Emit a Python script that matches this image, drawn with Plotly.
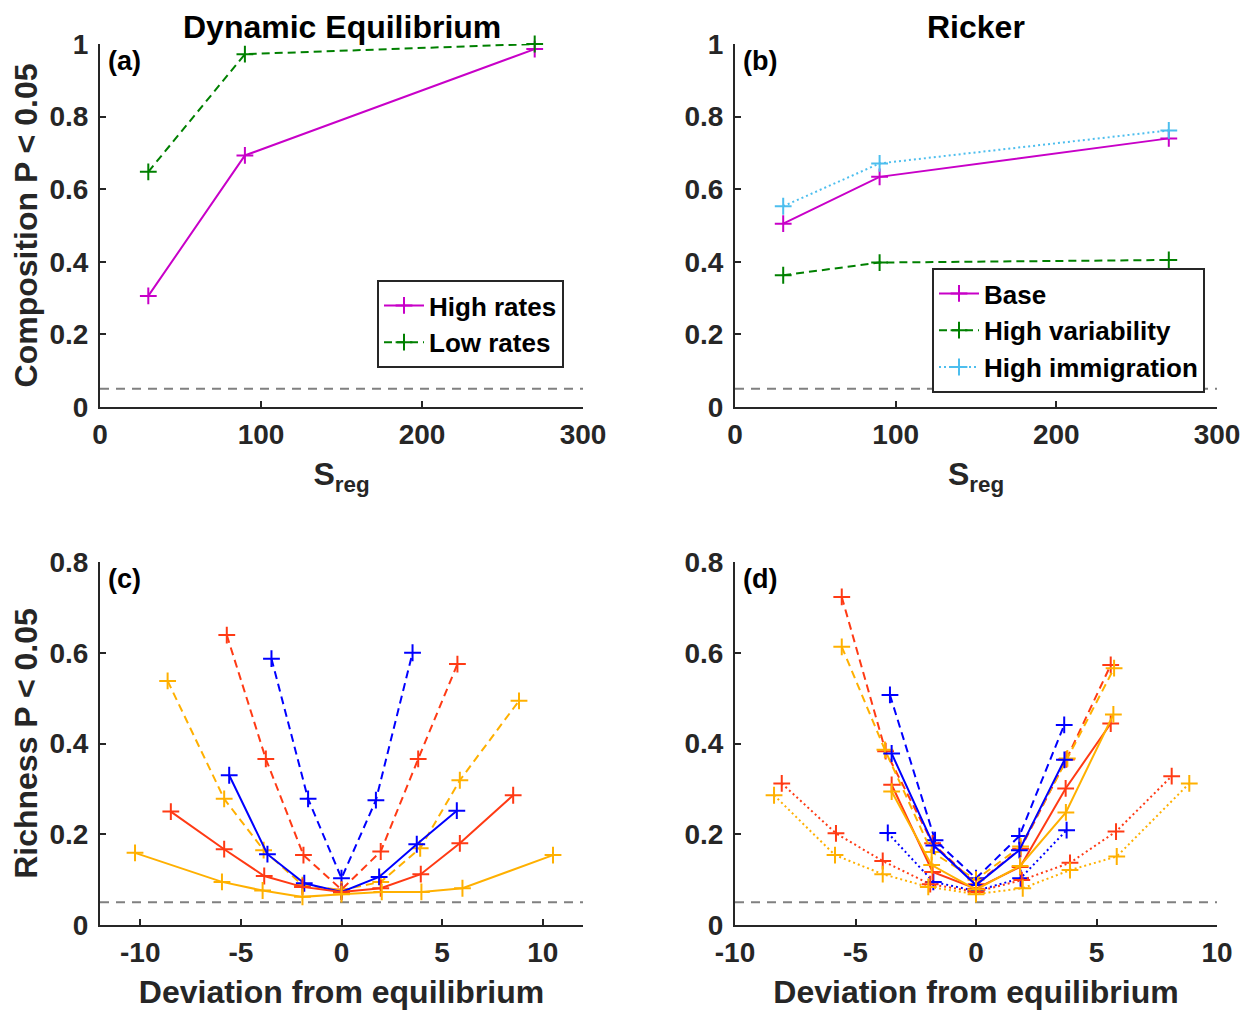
import plotly.graph_objects as go

# ---------------- data ----------------
S_REG = [30, 90, 270]
DE_HIGH_RATES = [0.306, 0.693, 0.986]
DE_LOW_RATES = [0.648, 0.972, 1.0]

RK_BASE = [0.505, 0.634, 0.740]
RK_HIGH_VAR = [0.363, 0.398, 0.405]
RK_HIGH_IMM = [0.553, 0.671, 0.762]

THRESH = 0.05

# tick labels
SREG_TICKS = [0, 100, 200, 300]
SREG_TICKTEXT = ["0", "100", "200", "300"]
COMP_TICKS = [0, 0.2, 0.4, 0.6, 0.8, 1]
COMP_TICKTEXT = ["0", "0.2", "0.4", "0.6", "0.8", "1"]
RICH_TICKS = [0, 0.2, 0.4, 0.6, 0.8]
RICH_TICKTEXT = ["0", "0.2", "0.4", "0.6", "0.8"]
DEV_TICKS = [-10, -5, 0, 5, 10]
DEV_TICKTEXT = ["-10", "-5", "0", "5", "10"]

# panel (c) Dynamic equilibrium richness
C_BLUE_DASH_X = [-3.48, -1.66, 0, 1.71, 3.53]
C_BLUE_DASH_Y = [0.587, 0.278, 0.103, 0.275, 0.600]
C_RED_DASH_X = [-5.70, -3.76, -1.89, 0, 1.95, 3.81, 5.76]
C_RED_DASH_Y = [0.639, 0.366, 0.154, 0.078, 0.162, 0.366, 0.575]
C_ORANGE_DASH_X = [-8.64, -5.83, -3.87, -1.94, 0, 1.95, 3.91, 5.88, 8.82]
C_ORANGE_DASH_Y = [0.538, 0.278, 0.165, 0.088, 0.077, 0.095, 0.169, 0.319, 0.494]
C_BLUE_SOLID_X = [-5.58, -3.68, -1.85, 0, 1.87, 3.74, 5.73]
C_BLUE_SOLID_Y = [0.330, 0.156, 0.092, 0.073, 0.106, 0.178, 0.252]
C_RED_SOLID_X = [-8.48, -5.83, -3.84, -1.94, 0, 1.95, 3.94, 5.88, 8.53]
C_RED_SOLID_Y = [0.250, 0.167, 0.108, 0.084, 0.073, 0.081, 0.112, 0.180, 0.286]
C_ORANGE_SOLID_X = [-10.26, -5.94, -3.92, -1.94, 0, 2.0, 3.97, 6.01, 10.51]
C_ORANGE_SOLID_Y = [0.159, 0.095, 0.076, 0.062, 0.068, 0.073, 0.073, 0.081, 0.154]

# panel (d) Ricker richness
D_BLUE_DASH_X = [-3.57, -1.70, 0, 1.80, 3.66]
D_BLUE_DASH_Y = [0.507, 0.187, 0.103, 0.196, 0.441]
D_BLUE_SOLID_X = [-3.50, -1.75, 0, 1.80, 3.67]
D_BLUE_SOLID_Y = [0.378, 0.175, 0.088, 0.165, 0.364]
D_BLUE_DOT_X = [-3.66, -1.77, 0, 1.85, 3.76]
D_BLUE_DOT_Y = [0.203, 0.095, 0.075, 0.103, 0.209]
D_RED_DASH_X = [-5.57, -3.75, -1.80, 0, 1.85, 3.75, 5.59]
D_RED_DASH_Y = [0.723, 0.383, 0.180, 0.090, 0.168, 0.365, 0.573]
D_RED_SOLID_X = [-3.50, -1.80, 0, 1.83, 3.72, 5.59]
D_RED_SOLID_Y = [0.309, 0.117, 0.080, 0.128, 0.301, 0.444]
D_RED_DOT_X = [-8.06, -5.81, -3.87, -1.90, 0, 1.90, 3.90, 5.81, 8.12]
D_RED_DOT_Y = [0.312, 0.202, 0.141, 0.090, 0.073, 0.099, 0.137, 0.206, 0.328]
D_ORANGE_DASH_X = [-5.57, -3.78, -1.84, 0, 1.85, 3.79, 5.73]
D_ORANGE_DASH_Y = [0.613, 0.386, 0.161, 0.100, 0.173, 0.367, 0.566]
D_ORANGE_SOLID_X = [-3.50, -1.84, 0, 1.83, 3.73, 5.70]
D_ORANGE_SOLID_Y = [0.294, 0.132, 0.078, 0.130, 0.248, 0.464]
D_ORANGE_DOT_X = [-8.38, -5.85, -3.87, -1.98, 0, 1.94, 3.90, 5.84, 8.85]
D_ORANGE_DOT_Y = [0.286, 0.154, 0.112, 0.084, 0.068, 0.081, 0.121, 0.151, 0.312]

# ---------------- style ----------------
FONT = "Arial"
AX_COL = "#262626"
MAGENTA = "#C800C8"
GREEN = "#008000"
LIGHTBLUE = "#4DBEEE"
BLUE = "#0000FF"
RED = "#FF3A14"
ORANGE = "#FFB000"
DASH = "8px,5px"
DOT = "2px,3px"

fig = go.Figure()


def add(x, y, color, dash, xa, ya, name=None, legend=None):
    fig.add_trace(go.Scatter(
        x=x, y=y, mode="lines+markers", name=name,
        line=dict(color=color, width=2, dash=dash),
        marker=dict(symbol="cross-thin", size=12, color=color,
                    line=dict(color=color, width=2)),
        xaxis=xa, yaxis=ya, cliponaxis=False,
        showlegend=legend is not None, legend=legend or "legend",
    ))


# panel a
add(S_REG, DE_HIGH_RATES, MAGENTA, "solid", "x", "y", "High rates", "legend")
add(S_REG, DE_LOW_RATES, GREEN, DASH, "x", "y", "Low rates", "legend")
# panel b
add(S_REG, RK_BASE, MAGENTA, "solid", "x2", "y2", "Base", "legend2")
add(S_REG, RK_HIGH_VAR, GREEN, DASH, "x2", "y2", "High variability", "legend2")
add(S_REG, RK_HIGH_IMM, LIGHTBLUE, DOT, "x2", "y2", "High immigration", "legend2")
# panel c
add(C_BLUE_DASH_X, C_BLUE_DASH_Y, BLUE, DASH, "x3", "y3")
add(C_RED_DASH_X, C_RED_DASH_Y, RED, DASH, "x3", "y3")
add(C_ORANGE_DASH_X, C_ORANGE_DASH_Y, ORANGE, DASH, "x3", "y3")
add(C_BLUE_SOLID_X, C_BLUE_SOLID_Y, BLUE, "solid", "x3", "y3")
add(C_RED_SOLID_X, C_RED_SOLID_Y, RED, "solid", "x3", "y3")
add(C_ORANGE_SOLID_X, C_ORANGE_SOLID_Y, ORANGE, "solid", "x3", "y3")
# panel d
add(D_BLUE_DASH_X, D_BLUE_DASH_Y, BLUE, DASH, "x4", "y4")
add(D_RED_DASH_X, D_RED_DASH_Y, RED, DASH, "x4", "y4")
add(D_ORANGE_DASH_X, D_ORANGE_DASH_Y, ORANGE, DASH, "x4", "y4")
add(D_BLUE_DOT_X, D_BLUE_DOT_Y, BLUE, DOT, "x4", "y4")
add(D_RED_DOT_X, D_RED_DOT_Y, RED, DOT, "x4", "y4")
add(D_ORANGE_DOT_X, D_ORANGE_DOT_Y, ORANGE, DOT, "x4", "y4")
add(D_BLUE_SOLID_X, D_BLUE_SOLID_Y, BLUE, "solid", "x4", "y4")
add(D_RED_SOLID_X, D_RED_SOLID_Y, RED, "solid", "x4", "y4")
add(D_ORANGE_SOLID_X, D_ORANGE_SOLID_Y, ORANGE, "solid", "x4", "y4")

# page body has an 8px margin: figure sized to fill the window exactly
OFF = 8
W, H = 1249 - OFF, 1010 - OFF


def px_x(p):
    return (p - OFF) / W


def px_y(p):
    return 1 - (p - OFF) / H


XL = [px_x(100), px_x(583)]
XR = [px_x(735), px_x(1217)]
YT = [px_y(407), px_y(44)]
YB = [px_y(925), px_y(562)]

tickfont = dict(family=FONT, size=28, color=AX_COL, weight="bold")
titlefont = dict(family=FONT, size=32, color=AX_COL, weight="bold")


def common():
    return dict(showline=True, linecolor=AX_COL, linewidth=2, ticks="inside",
                ticklen=6, tickwidth=2, tickcolor=AX_COL, showgrid=False,
                zeroline=False, tickfont=tickfont, automargin=False,
                tickmode="array")


def xax(domain, anchor, rng, tv, tt, title):
    d = common()
    d.update(domain=domain, anchor=anchor, range=rng, tickvals=tv, ticktext=tt,
             ticklabelstandoff=1,
             title=dict(text=title, font=titlefont, standoff=14))
    return d


def yax(domain, anchor, rng, tv, tt, title=None):
    d = common()
    d.update(domain=domain, anchor=anchor, range=rng, tickvals=tv, ticktext=tt,
             ticklabelstandoff=4)
    if title:
        d["title"] = dict(text=title, font=titlefont, standoff=3)
    return d


SREG = "S<sub>reg</sub>"
DEV = "Deviation from equilibrium"
legfont = dict(family=FONT, size=26, color="black", weight="bold")
fig.update_layout(
    width=W, height=H, margin=dict(l=0, r=0, t=0, b=0, autoexpand=False),
    paper_bgcolor="white", plot_bgcolor="white",
    xaxis=xax(XL, "y", [0, 300], SREG_TICKS, SREG_TICKTEXT, SREG),
    yaxis=yax(YT, "x", [0, 1], COMP_TICKS, COMP_TICKTEXT, "Composition P < 0.05"),
    xaxis2=xax(XR, "y2", [0, 300], SREG_TICKS, SREG_TICKTEXT, SREG),
    yaxis2=yax(YT, "x2", [0, 1], COMP_TICKS, COMP_TICKTEXT),
    xaxis3=xax(XL, "y3", [-12, 12], DEV_TICKS, DEV_TICKTEXT, DEV),
    yaxis3=yax(YB, "x3", [0, 0.8], RICH_TICKS, RICH_TICKTEXT, "Richness P < 0.05"),
    xaxis4=xax(XR, "y4", [-10, 10], DEV_TICKS, DEV_TICKTEXT, DEV),
    yaxis4=yax(YB, "x4", [0, 0.8], RICH_TICKS, RICH_TICKTEXT),
    legend=dict(x=px_x(377), y=px_y(280), xanchor="left", yanchor="top",
                bgcolor="white", bordercolor=AX_COL, borderwidth=2,
                font=legfont, itemwidth=40, tracegroupgap=0),
    legend2=dict(x=px_x(932), y=px_y(268), xanchor="left", yanchor="top",
                 bgcolor="white", bordercolor=AX_COL, borderwidth=2,
                 font=legfont, itemwidth=40, tracegroupgap=0),
)

# significance threshold lines
for xr, yr in [("x", "y"), ("x2", "y2"), ("x3", "y3"), ("x4", "y4")]:
    fig.add_shape(type="line", xref=f"{xr} domain", x0=0, x1=1, yref=yr,
                  y0=THRESH, y1=THRESH, layer="below",
                  line=dict(color="#808080", width=2, dash="9px,7px"))

# titles and panel labels
tfont = dict(family=FONT, size=32, color="black", weight="bold")
fig.add_annotation(text="Dynamic Equilibrium", xref="paper", yref="paper",
                   x=(XL[0] + XL[1]) / 2, y=px_y(27), showarrow=False,
                   xanchor="center", yanchor="middle", font=tfont)
fig.add_annotation(text="Ricker", xref="paper", yref="paper",
                   x=(XR[0] + XR[1]) / 2, y=px_y(27), showarrow=False,
                   xanchor="center", yanchor="middle", font=tfont)
for lab, xr, yr in [("(a)", "x", "y"), ("(b)", "x2", "y2"),
                    ("(c)", "x3", "y3"), ("(d)", "x4", "y4")]:
    fig.add_annotation(text=lab, xref=f"{xr} domain", yref=f"{yr} domain",
                       x=0.012, y=1.0, xanchor="left", yanchor="top",
                       showarrow=False,
                       font=dict(family=FONT, size=27, color="black", weight="bold"))

fig.write_html("out.html")
